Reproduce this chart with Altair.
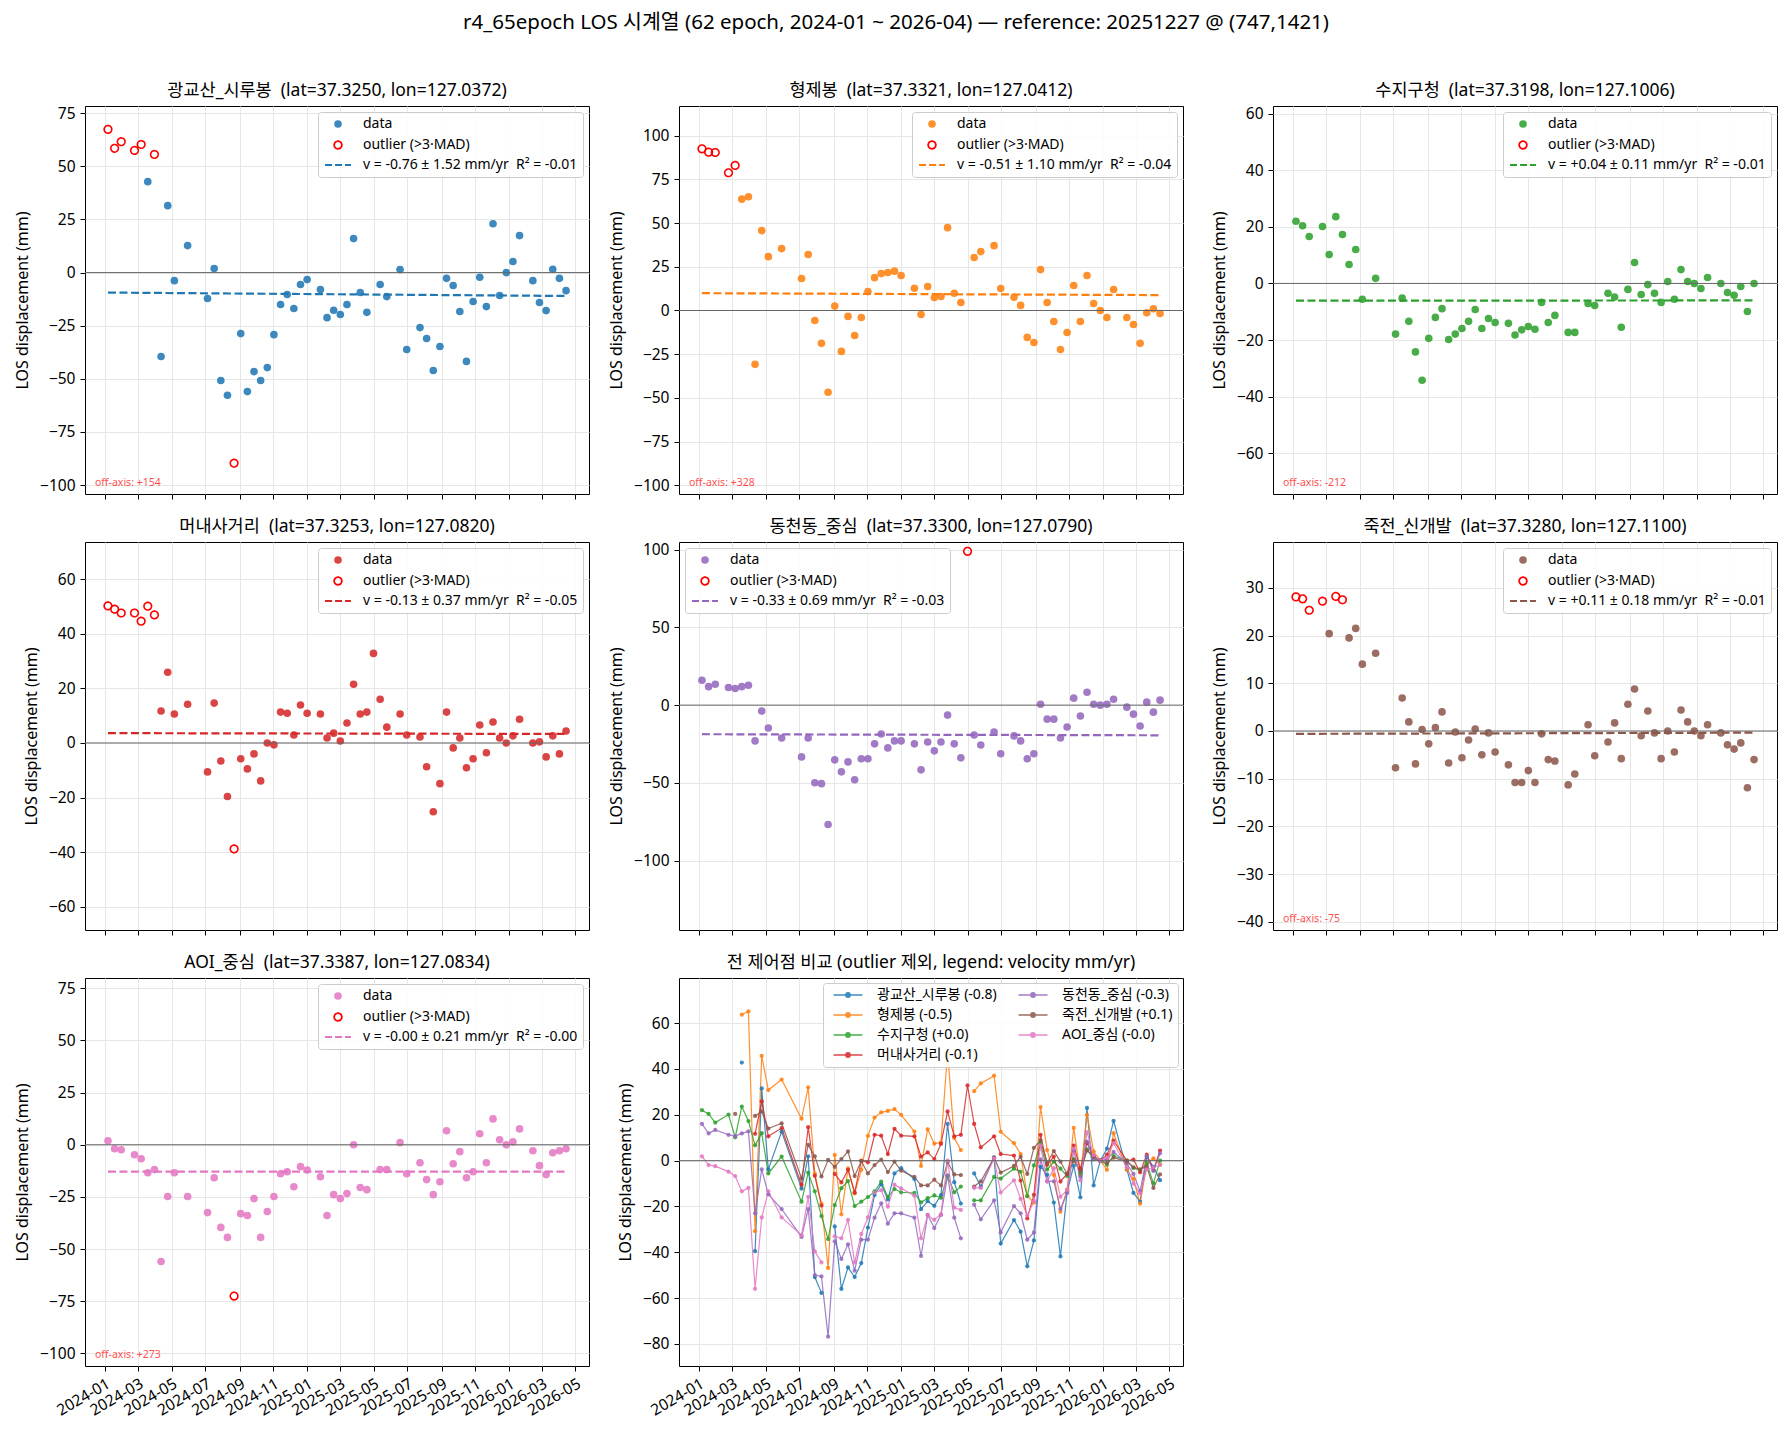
import altair as alt
import pandas as pd

FONT = "Noto Sans, Noto Sans CJK KR"

SUPTITLE = "r4_65epoch LOS 시계열 (62 epoch, 2024-01 ~ 2026-04) — reference: 20251227 @ (747,1421)"

dates = [
    "2024-01-07", "2024-01-19", "2024-01-31", "2024-02-24", "2024-03-07", "2024-03-19",
    "2024-03-31", "2024-04-12", "2024-04-24", "2024-05-06", "2024-05-30", "2024-07-05",
    "2024-07-17", "2024-07-29", "2024-08-10", "2024-08-22", "2024-09-03", "2024-09-15",
    "2024-09-27", "2024-10-09", "2024-10-21", "2024-11-02", "2024-11-14", "2024-11-26",
    "2024-12-08", "2024-12-20", "2025-01-01", "2025-01-25", "2025-02-06", "2025-02-18",
    "2025-03-02", "2025-03-14", "2025-03-26", "2025-04-07", "2025-04-19", "2025-05-01",
    "2025-05-13", "2025-05-25", "2025-06-18", "2025-06-30", "2025-07-24", "2025-08-05",
    "2025-08-17", "2025-08-29", "2025-09-10", "2025-09-22", "2025-10-04", "2025-10-16",
    "2025-10-28", "2025-11-09", "2025-11-21", "2025-12-03", "2025-12-15", "2025-12-27",
    "2026-01-08", "2026-01-20", "2026-02-13", "2026-02-25", "2026-03-09", "2026-03-21",
    "2026-04-02", "2026-04-14",
]

names = ["광교산_시루봉", "형제봉", "수지구청", "머내사거리", "동천동_중심", "죽전_신개발", "AOI_중심"]
lats = ["37.3250", "37.3321", "37.3198", "37.3253", "37.3300", "37.3280", "37.3387"]
lons = ["127.0372", "127.0412", "127.1006", "127.0820", "127.0790", "127.1100", "127.0834"]
colors = ["#1f77b4", "#ff7f0e", "#2ca02c", "#d62728", "#9467bd", "#8c564b", "#e377c2"]

vals_gwanggyo = [67.4, 58.5, 61.6, 57.5, 60.3, 42.8, 55.6, -39.5, 31.5, -3.8, 12.7, -12.2, 1.9, -50.8, -57.7, -89.7,
                 -28.7, -56.0, -46.6, -50.8, -44.7, -29.2, -15.0, -10.3, -16.9, -5.6, -3.3, -8.0, -21.2, -17.7, -19.7,
                 -15.0, 16.0, -9.4, -18.7, 154.0, -5.6, -11.3, 1.4, -36.2, -25.9, -31.0, -46.1, -34.8, -2.7, -6.1,
                 -18.3, -41.8, -13.6, -2.2, -16.0, 23.0, -10.8, 0.0, 5.2, 17.4, -3.8, -14.1, -17.9, 1.6, -2.7, -8.5]
vals_hyeongje = [92.5, 90.6, 90.4, 78.8, 83.0, 63.7, 65.1, -30.8, 45.7, 30.8, 35.4, 18.3, 32.0, -5.7, -18.8, -46.8,
                 2.5, -23.4, -3.4, -14.3, -4.0, 10.8, 18.8, 21.1, 21.7, 22.5, 20.0, 12.7, -2.3, 13.7, 7.4, 8.0, 47.4,
                 9.9, 4.6, 328.0, 30.3, 33.7, 37.1, 12.6, 7.6, 2.9, -15.4, -18.3, 23.4, 4.6, -6.3, -22.3, -12.6, 14.3,
                 -6.3, 20.0, 4.0, 0.0, -4.0, 12.0, -4.0, -8.0, -18.8, -1.3, 1.0, -1.7]
vals_suji = [22.0, 20.4, 16.6, 20.1, 10.2, 23.6, 17.3, 6.7, 12.0, -5.6, 1.8, -17.9, -5.2, -13.4, -24.2, -34.2, -19.4,
             -12.0, -8.9, -19.8, -17.9, -15.9, -13.4, -9.2, -15.9, -12.4, -13.8, -14.1, -18.2, -16.4, -15.2, -16.2,
             -6.7, -13.8, -11.3, -212.0, -17.3, -17.3, -7.1, -7.8, -3.5, -4.8, -15.5, -2.1, 7.4, -3.9, -0.4, -3.5,
             -6.7, 0.7, -5.6, 4.9, 0.7, 0.0, -1.8, 2.1, 0.0, -3.2, -4.2, -1.1, -9.9, 0.0]
vals_meonae = [50.2, 49.0, 47.6, 47.6, 44.6, 50.1, 46.9, 11.7, 25.9, 10.6, 14.2, -10.6, 14.6, -6.6, -19.6, -38.8, -5.8,
               -9.5, -4.0, -13.9, 0.0, -0.7, 11.3, 10.9, 2.9, 13.9, 10.9, 10.6, 1.8, 3.6, 0.7, 7.3, 21.5, 10.6, 11.3,
               32.8, 16.0, 5.8, 10.6, 2.9, 2.2, -8.7, -25.2, -14.9, 11.3, -1.8, 1.8, -9.1, -5.8, 6.6, -3.6, 7.7, 1.8,
               0.0, 2.6, 8.7, 0.0, 0.4, -5.1, 2.6, -4.0, 4.4]
vals_dongcheon = [16.0, 11.9, 13.4, 11.3, 10.7, 11.9, 12.8, -23.0, -3.8, -14.7, -21.1, -33.3, -21.1, -49.9, -50.5,
                  -76.8, -35.2, -42.9, -36.5, -48.0, -34.5, -34.5, -24.9, -18.6, -27.5, -23.0, -23.0, -24.9, -41.6,
                  -23.7, -29.4, -23.7, -6.4, -24.9, -33.9, 98.9, -19.2, -25.6, -17.3, -31.3, -19.8, -23.0, -34.5,
                  -31.3, 0.6, -9.0, -9.0, -21.1, -14.1, 4.5, -7.0, 8.3, 0.6, 0.0, 0.6, 3.8, -1.3, -5.8, -13.4, 1.9,
                  -4.5, 3.2]
vals_jukjeon = [28.1, 27.7, 25.3, 27.2, 20.4, 28.2, 27.5, 19.5, 21.5, 14.0, 16.3, -7.7, 6.9, 1.9, -6.9, 0.3, -2.7, 0.7,
                4.0, -6.7, -0.2, -5.6, -1.9, 0.4, -5.0, -0.4, -4.4, -7.1, -10.8, -10.8, -8.3, -10.8, -0.6, -6.0, -6.3,
                -75.0, -11.3, -9.0, 1.3, -5.2, -2.3, 1.7, -5.8, 5.6, 8.8, -1.0, 4.2, -0.4, -5.8, 0.0, -4.4, 4.4, 1.9,
                0.0, -1.0, 1.3, -0.4, -2.9, -3.8, -2.5, -11.9, -6.0]
vals_aoi = [1.9, -1.9, -2.4, -4.8, -6.7, -13.4, -11.9, -55.9, -24.8, -13.4, -24.8, -32.5, -15.8, -39.6, -44.4, -72.5,
            -33.0, -33.9, -25.8, -44.4, -32.0, -24.8, -13.9, -12.9, -20.1, -10.5, -12.1, -15.3, -33.9, -23.9, -25.8,
            -23.4, 0.0, -20.5, -21.5, 273.0, -11.9, -11.9, 1.0, -13.9, -8.6, -16.7, -23.9, -17.7, 6.7, -9.1, -3.3,
            -15.8, -12.9, 5.3, -8.6, 12.4, 2.4, 0.0, 1.4, 7.6, -2.9, -10.0, -14.3, -3.8, -2.9, -1.9]
series_values = [vals_gwanggyo, vals_hyeongje, vals_suji, vals_meonae, vals_dongcheon, vals_jukjeon, vals_aoi]

outlier_gwanggyo = [0, 1, 2, 3, 4, 6, 15, 35]
outlier_hyeongje = [0, 1, 2, 3, 4, 35]
outlier_suji = [35]
outlier_meonae = [0, 1, 2, 3, 4, 5, 6, 15]
outlier_dongcheon = [35]
outlier_jukjeon = [0, 1, 2, 3, 5, 6, 35]
outlier_aoi = [15, 35]
outliers = [outlier_gwanggyo, outlier_hyeongje, outlier_suji, outlier_meonae, outlier_dongcheon, outlier_jukjeon,
            outlier_aoi]

fit_labels = [
    "v = -0.76 ± 1.52 mm/yr\u00a0 R² = -0.01",
    "v = -0.51 ± 1.10 mm/yr\u00a0 R² = -0.04",
    "v = +0.04 ± 0.11 mm/yr\u00a0 R² = -0.01",
    "v = -0.13 ± 0.37 mm/yr\u00a0 R² = -0.05",
    "v = -0.33 ± 0.69 mm/yr\u00a0 R² = -0.03",
    "v = +0.11 ± 0.18 mm/yr\u00a0 R² = -0.01",
    "v = -0.00 ± 0.21 mm/yr\u00a0 R² = -0.00",
]
velocity_short = ["-0.8", "-0.5", "+0.0", "-0.1", "-0.3", "+0.1", "-0.0"]
trend_start = [-9.4, 9.9, -6.1, 3.6, -18.7, -0.6, -12.9]
trend_end = [-11.0, 8.8, -6.0, 3.3, -19.4, -0.35, -12.9]

off_axis_labels = ["off-axis: +154", "off-axis: +328", "off-axis: -212", "", "", "off-axis: -75", "off-axis: +273"]

y_domains = [[-104.2, 78.4], [-105.0, 117.0], [-74.4, 62.7], [-68.5, 73.6], [-144.6, 104.9], [-41.7, 39.6],
             [-106.0, 79.9]]
y_ticks = [
    [-100, -75, -50, -25, 0, 25, 50, 75],
    [-100, -75, -50, -25, 0, 25, 50, 75, 100],
    [-60, -40, -20, 0, 20, 40, 60],
    [-60, -40, -20, 0, 20, 40, 60],
    [-100, -50, 0, 50, 100],
    [-40, -30, -20, -10, 0, 10, 20, 30],
    [-100, -75, -50, -25, 0, 25, 50, 75],
]
legend_orient = ["top-right", "top-right", "top-right", "top-right", "top-left", "top-right", "top-right"]

compare_domain = [-89.6, 79.7]
compare_ticks = [-80, -60, -40, -20, 0, 20, 40, 60]
COMPARE_TITLE = "전 제어점 비교 (outlier 제외, legend: velocity mm/yr)"

tick_months = [(2024, 1), (2024, 3), (2024, 5), (2024, 7), (2024, 9), (2024, 11), (2025, 1), (2025, 3),
               (2025, 5), (2025, 7), (2025, 9), (2025, 11), (2026, 1), (2026, 3), (2026, 5)]

KIND_DATA = "data"
KIND_OUT = "outlier (>3·MAD)"

W, H = 504, 388
X_DOMAIN = [alt.DateTime(year=2023, month=11, date=26, hours=12, utc=True),
            alt.DateTime(year=2026, month=5, date=25, hours=12, utc=True)]
X_TICKS = [alt.DateTime(year=y, month=m, date=1, utc=True) for (y, m) in tick_months]
DASH_PATH = "M-3.4,0H3.4"
PT_SIZE = 58


def x_enc(show_labels):
    return alt.X(
        "date:T",
        scale=alt.Scale(type="utc", domain=X_DOMAIN),
        axis=alt.Axis(values=X_TICKS, format="%Y-%m", labels=show_labels, labelAngle=-30,
                      labelAlign="right", labelBaseline="top", labelOverlap=False, title=None),
    )


def y_enc(domain, ticks):
    return alt.Y(
        "value:Q",
        scale=alt.Scale(domain=domain, zero=False, nice=False),
        axis=alt.Axis(values=ticks, title="LOS displacement (mm)"),
    )


def panel_title(text):
    return alt.TitleParams(text=text, fontSize=17.5, fontWeight="normal", font=FONT, color="black",
                           anchor="middle", offset=7)


def station_panel(i, show_x_labels):
    c = colors[i]
    out_set = set(outliers[i])
    kinds = [KIND_DATA, KIND_OUT, fit_labels[i]]
    df = pd.DataFrame({
        "date": dates,
        "value": series_values[i],
        "kind": [KIND_OUT if k in out_set else KIND_DATA for k in range(len(dates))],
    })
    leg = alt.Legend(
        title=None, orient=legend_orient[i], offset=6, padding=5, fillColor="rgba(255,255,255,0.85)",
        strokeColor="#cccccc", cornerRadius=3, labelFontSize=14, labelFont=FONT, labelColor="black",
        symbolSize=PT_SIZE, symbolStrokeWidth=1.8, symbolOffset=8, labelOffset=18, rowPadding=5, labelLimit=400,
    )
    x = x_enc(show_x_labels)
    y = y_enc(y_domains[i], y_ticks[i])
    pts = alt.Chart(df).mark_point(size=PT_SIZE, strokeWidth=1.6, opacity=1, clip=True).encode(
        x=x, y=y,
        fill=alt.Fill("kind:N", scale=alt.Scale(domain=kinds, range=[c + "dd", "transparent", "transparent"]),
                      legend=leg),
        stroke=alt.Stroke("kind:N", scale=alt.Scale(domain=kinds, range=["transparent", "#ff0000", c]),
                          legend=leg),
        shape=alt.Shape("kind:N", scale=alt.Scale(domain=kinds, range=["circle", "circle", DASH_PATH]),
                        legend=leg),
        strokeDash=alt.StrokeDash("kind:N", scale=alt.Scale(domain=kinds, range=[[1, 0], [1, 0], [7, 3]]),
                                  legend=leg),
    )
    zero = alt.Chart(pd.DataFrame({"value": [0.0]})).mark_rule(color="#666666", strokeWidth=1).encode(
        y=y)
    trend_df = pd.DataFrame({"date": [dates[0], dates[-1]], "value": [trend_start[i], trend_end[i]]})
    trend = alt.Chart(trend_df).mark_line(color=c, strokeWidth=2.2, strokeDash=[8, 3.5], clip=True).encode(
        x=x, y=y)
    layers = [pts, zero, trend]
    if off_axis_labels[i]:
        txt_df = pd.DataFrame({"t": [off_axis_labels[i]]})
        txt = alt.Chart(txt_df).mark_text(align="left", baseline="bottom", color="#ff0000", opacity=0.7,
                                          fontSize=10.5, font=FONT).encode(
            x=alt.value(10), y=alt.value(H - 6), text="t:N")
        layers.append(txt)
    title = f"{names[i]}\u00a0 (lat={lats[i]}, lon={lons[i]})"
    return alt.layer(*layers).properties(width=W, height=H, title=panel_title(title))


def compare_panel():
    rows = []
    for i, nm in enumerate(names):
        out_set = set(outliers[i])
        lab = f"{nm} ({velocity_short[i]})"
        for k, d in enumerate(dates):
            v = None if k in out_set else series_values[i][k]
            rows.append({"date": d, "value": v, "series": lab})
    df = pd.DataFrame(rows)
    labels = [f"{nm} ({velocity_short[i]})" for i, nm in enumerate(names)]
    leg = alt.Legend(
        title=None, orient="top-right", offset=5, padding=5, columns=2, columnPadding=16,
        fillColor="rgba(255,255,255,0.85)", strokeColor="#cccccc", cornerRadius=3, labelFontSize=14,
        labelFont=FONT, labelColor="black",
        symbolType="M-14.5,0H14.5M-2.2,0A2.2,2.2 0 1,1 2.2,0A2.2,2.2 0 1,1 -2.2,0",
        symbolSize=4, symbolStrokeWidth=1.5, symbolOffset=13, labelOffset=22, rowPadding=6, labelLimit=400,
    )
    y = y_enc(compare_domain, compare_ticks)
    lines = alt.Chart(df).mark_line(
        strokeWidth=1.2, opacity=0.85, clip=True,
        point=alt.OverlayMarkDef(size=18, filled=True, opacity=0.85, clip=True),
    ).encode(
        x=x_enc(True),
        y=y,
        color=alt.Color("series:N", scale=alt.Scale(domain=labels, range=colors), legend=leg),
    )
    zero = alt.Chart(pd.DataFrame({"value": [0.0]})).mark_rule(color="#666666", strokeWidth=1).encode(
        y=y)
    return alt.layer(lines, zero).properties(width=W, height=H, title=panel_title(COMPARE_TITLE))


panels = [
    station_panel(0, False), station_panel(1, False), station_panel(2, False),
    station_panel(3, False), station_panel(4, False), station_panel(5, False),
    station_panel(6, True), compare_panel(),
]

chart = alt.concat(
    *panels, columns=3, spacing={"row": 48, "column": 90}, bounds="flush",
).properties(
    title=alt.TitleParams(text=SUPTITLE, fontSize=20.5, fontWeight="normal", font=FONT, color="black",
                          anchor="middle", frame="bounds", offset=48),
).resolve_scale(
    x="independent", y="independent", fill="independent", stroke="independent", shape="independent",
    strokeDash="independent", color="independent",
).resolve_legend(
    fill="independent", stroke="independent", shape="independent", strokeDash="independent",
    color="independent",
).configure(
    font=FONT, padding={"left": 14, "top": 12, "right": 10, "bottom": 5}, background="white",
).configure_view(
    stroke="black", strokeWidth=1,
).configure_axis(
    grid=True, gridColor="#e6e6e6", gridWidth=1, domain=False, tickColor="black", tickSize=5, tickWidth=1,
    labelFontSize=15.5, labelColor="black", labelFont=FONT, labelPadding=5,
    titleFontSize=16, titleFontWeight="normal", titleColor="black", titleFont=FONT, titlePadding=9,
)

chart.save("out.html", embed_options={"renderer": "svg", "actions": False})
